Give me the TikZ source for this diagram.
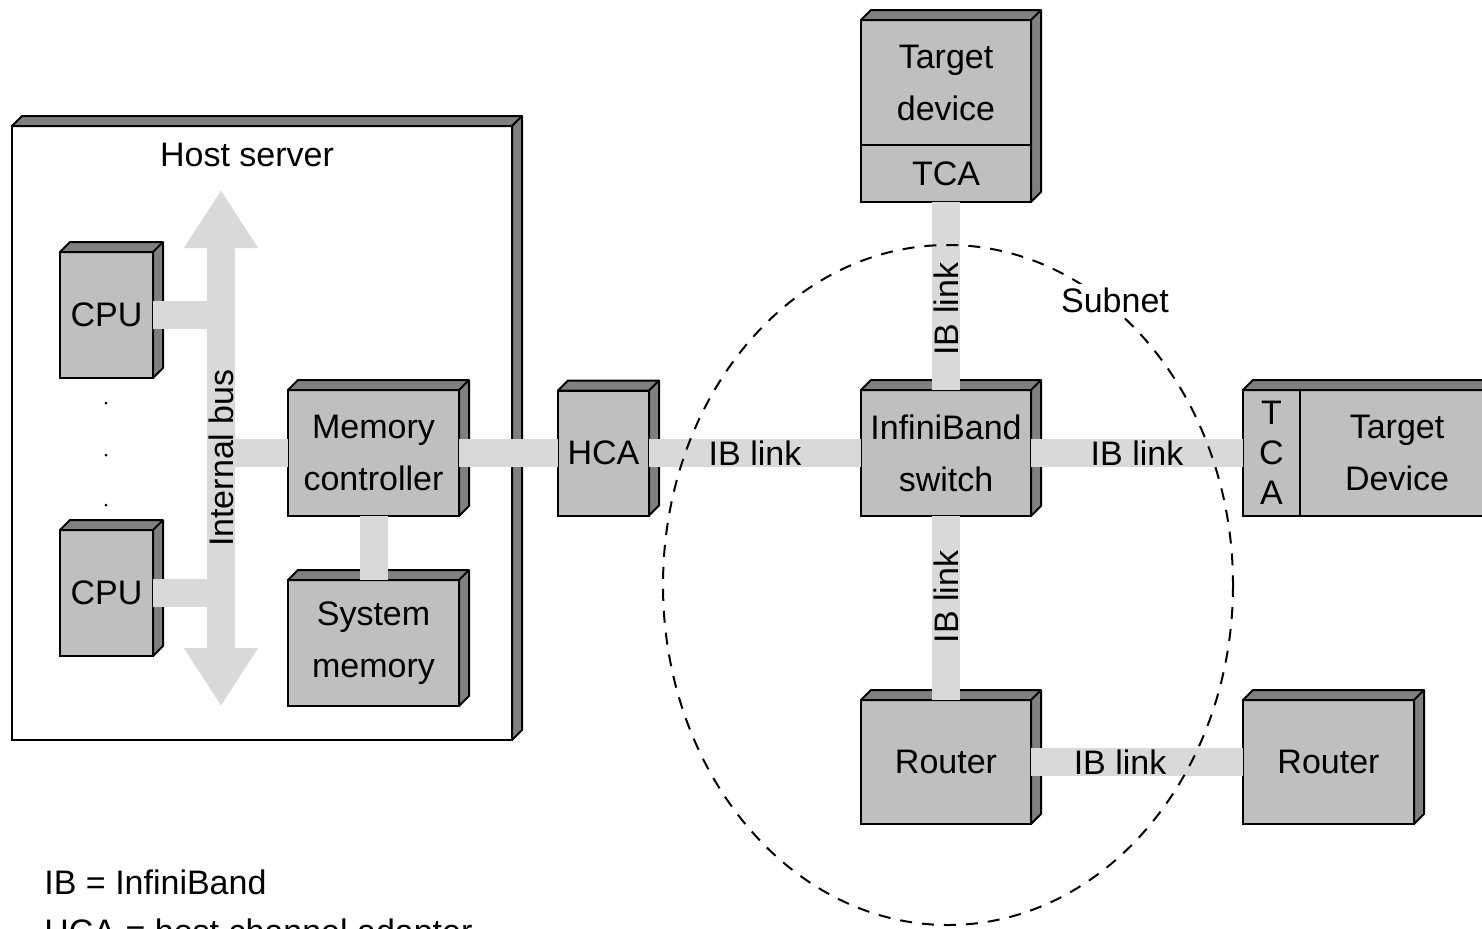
\documentclass[tikz,border=0pt]{standalone}
\usepackage{fontspec}
\setmainfont{Liberation Sans}
\usetikzlibrary{arrows.meta}
\definecolor{facegray}{gray}{0.75}
\definecolor{sidegray}{gray}{0.5}
\definecolor{linkgray}{gray}{0.85}
% top and right faces of a box (front face from #1 down to #2)
\newcommand{\solidbox}[2]{%
  \filldraw[side] (#1.north west) -- ++(10,-10) -| ([shift={(10,-10)}]#2.south east)
    -- (#2.south east) |- (#1.north west) -- cycle;
  \draw[side] (#1.north -| #2.east) -- ++(10,-10);
}
\begin{document}
\begin{tikzpicture}[x=0.5pt,y=-0.5pt,
    unit/.style={draw,fill=facegray,line width=1pt,outer sep=0pt,inner sep=0pt,
      align=center,font=\fontsize{17}{26}\selectfont},
    side/.style={fill=sidegray,draw,line width=1pt,line join=round},
    link/.style={draw=linkgray,line width=14pt},
    lbl/.style={font=\fontsize{17}{20}\selectfont}]
  \useasboundingbox (0,0) rectangle (1482,928);
  \clip (0,0) rectangle (1482,928);

  % host server
  \node[unit,fill=white,minimum width=250pt,minimum height=307pt] (host) at (262,433) {};
  \solidbox{host}{host}
  \node[lbl] (hostlbl) at (247,155) {Host server};

  % boxes
  \node[unit,minimum width=46.5pt,minimum height=63pt] (cpua) at (106.5,315) {CPU};
  \node[unit,minimum width=46.5pt,minimum height=63pt] (cpub) at (106.5,593) {CPU};
  \node[unit,minimum width=85.5pt,minimum height=63pt] (memctrl) at (373.5,453) {Memory\\controller};
  \node[unit,minimum width=85.5pt,minimum height=63pt] (sysmem) at (373.5,643) {System\\memory};
  \node[unit,minimum width=45.5pt,minimum height=62.5pt] (hca) at (603.5,453) {HCA};
  \node[unit,minimum width=85pt,minimum height=62.5pt] (tdev) at (946,82.5) {Target\\device};
  \node[unit,minimum width=85pt,minimum height=28.5pt] (tca) at (946,173.5) {TCA};
  \node[unit,minimum width=85pt,minimum height=63pt] (switch) at (946,453) {InfiniBand\\switch};
  \node[unit,minimum width=28.5pt,minimum height=63pt,font=\fontsize{17}{20}\selectfont] (rtca) at (1271.5,453) {T\\C\\A};
  \node[unit,minimum width=97pt,minimum height=63pt] (rdev) at (1397,453) {Target\\Device};
  \node[unit,minimum width=85pt,minimum height=62pt] (routera) at (946,762) {Router};
  \node[unit,minimum width=85.5pt,minimum height=62pt] (routerb) at (1328.5,762) {Router};
  \foreach \n in {cpua,cpub,memctrl,sysmem,hca,switch,routera,routerb}
    {\solidbox{\n}{\n}}
  \solidbox{tdev}{tca}
  \solidbox{rtca}{rdev}

  \fill (106,403) circle[radius=1.5];
  \fill (106,455) circle[radius=1.5];
  \fill (106,505) circle[radius=1.5];

  % internal bus
  \coordinate (bustop) at (221,190);
  \coordinate (busbot) at (221,706);
  \draw[link,{Triangle[width=35pt,length=29pt]}-{Triangle[width=35pt,length=29pt]}] (busbot) -- (bustop);

  % links
  \draw[link] (cpua.east) -- (cpua.east -| bustop);
  \draw[link] (cpub.east) -- (cpub.east -| bustop);
  \draw[link] (memctrl.west -| bustop) -- (memctrl.west);
  \draw[link] (memctrl.east) -- (hca.west);
  \draw[link] (memctrl.south) -- (sysmem.north);
  \draw[link] (hca.east) -- node[lbl] {IB link} (switch.west);
  \draw[link] (switch.east) -- node[lbl] {IB link} (rtca.west);
  \draw[link] (switch.north) -- node[lbl,pos=0.43,sloped] {IB link} (tca.south);
  \draw[link] (routera.north) -- node[lbl,pos=0.56,sloped] {IB link} (switch.south);
  \draw[link] (routera.east) -- node[lbl,pos=0.42] {IB link} (routerb.west);
  \node[lbl,rotate=90] (buslbl) at (221,458) {Internal bus};

  % subnet
  \draw[line width=1pt,dash pattern=on 6pt off 5pt] (948,585) ellipse [x radius=285, y radius=340];
  \node[lbl,fill=white,inner sep=2pt] (subnet) at (1115,300) {Subnet};

  % legend
  \node[lbl,anchor=base west,inner sep=0pt] (lega) at (44,894) {IB = InfiniBand};
  \node[lbl,anchor=base west,inner sep=0pt] (legb) at (44,943) {HCA = host channel adapter};
\end{tikzpicture}
\end{document}
